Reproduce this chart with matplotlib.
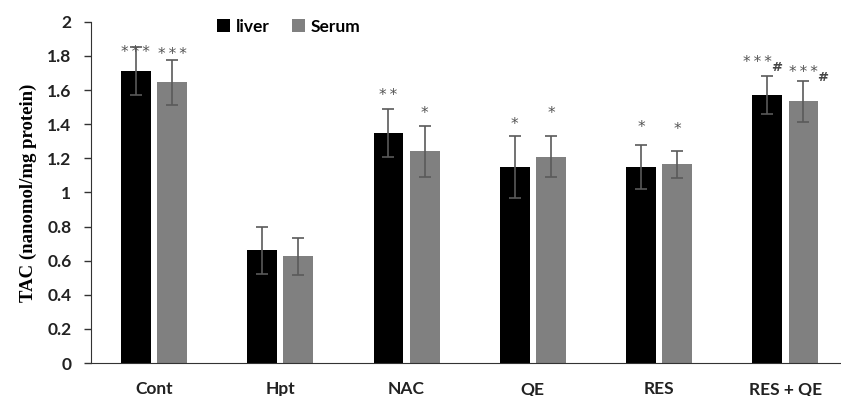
import matplotlib.pyplot as plt
import numpy as np

groups = ['Cont', 'Hpt', 'NAC', 'QE', 'RES', 'RES + QE']
liver = [1.71, 0.66, 1.35, 1.15, 1.15, 1.57]
liver_err = [0.14, 0.14, 0.14, 0.18, 0.13, 0.11]
serum = [1.645, 0.625, 1.24, 1.21, 1.165, 1.535]
serum_err = [0.13, 0.11, 0.15, 0.12, 0.08, 0.12]
liver_marks = ['***', '', '**', '*', '*', '***']
serum_marks = ['***', '', '*', '*', '*', '***']
liver_mark_y = [1.82, None, 1.57, 1.40, 1.38, 1.76]
serum_mark_y = [1.81, None, 1.46, 1.46, 1.37, 1.70]

x = np.arange(len(groups))
w = 0.237
off = 0.143

fig = plt.figure(figsize=(8.41, 3.96), dpi=100)
ax = fig.add_axes([0.108, 0.083, 0.892, 0.862])

ekw = dict(ecolor='#5a5a5a', elinewidth=1.2, capsize=4, capthick=1.2)
ax.bar(x - off, liver, w, color='black', label='liver',
       yerr=liver_err, error_kw=ekw)
ax.bar(x + off, serum, w, color='#808080', label='Serum',
       yerr=serum_err, error_kw=ekw)

for i in range(len(groups)):
    # last group: liver marks are pushed left so the # fits
    lx = x[i] - off - (0.08 if i == 5 else 0)
    if liver_marks[i]:
        ax.text(lx, liver_mark_y[i], '\u2009'.join(liver_marks[i]),
                ha='center', va='center', fontsize=11, color='#555555')
    if serum_marks[i]:
        ax.text(x[i] + off, serum_mark_y[i], '\u2009'.join(serum_marks[i]),
                ha='center', va='center', fontsize=11, color='#555555')

# the # signs sit right after the RES + QE stars
ax.text(x[5] - off - 0.08 + 0.15, liver_mark_y[5] - 0.025, '#', ha='center',
        va='center', fontsize=9.5, fontweight='bold', color='#444444')
ax.text(x[5] + off + 0.15, serum_mark_y[5] - 0.025, '#', ha='center',
        va='center', fontsize=9.5, fontweight='bold', color='#444444')

ax.set_xlim(-0.5, 5.44)
ax.set_ylim(0, 2)
ax.set_yticks(np.arange(0, 2.01, 0.2))
ax.set_yticklabels(['0', '0.2', '0.4', '0.6', '0.8', '1', '1.2', '1.4', '1.6', '1.8', '2'])
ax.set_xticks(x)
ax.set_xticklabels(groups)
for lab in ax.get_xticklabels() + ax.get_yticklabels():
    lab.set_fontfamily('Lato')
    lab.set_fontweight('bold')
    lab.set_fontsize(12.5)
    lab.set_color('#222222')
ax.tick_params(axis='x', length=0, pad=13)
ax.tick_params(axis='y', length=5, width=1, color='#333333', pad=9)

for s in ['top', 'right']:
    ax.spines[s].set_visible(False)
ax.spines['left'].set_color('#333333')
ax.spines['bottom'].set_color('#333333')

ax.set_ylabel('TAC (nanomol/mg protein)', fontfamily='Liberation Serif',
              fontweight='bold', fontsize=13.5, labelpad=7)

ax.legend(loc='center left', bbox_to_anchor=(0.148, 0.985), ncol=2, frameon=False,
          prop={'family': 'Lato', 'weight': 'bold', 'size': 12.5},
          handlelength=0.75, handleheight=0.75, handletextpad=0.3, columnspacing=1.3)

fig.savefig('out.png', dpi=100)
